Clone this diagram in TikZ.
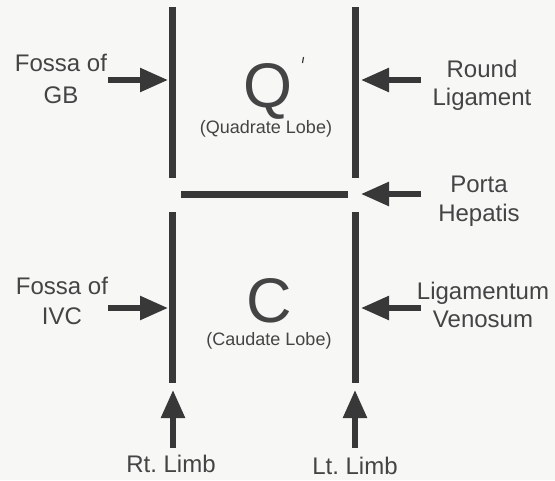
\documentclass[tikz,border=0pt]{standalone}
\usepackage{fontspec}
\setmainfont{Liberation Sans}
\usetikzlibrary{arrows.meta}
\definecolor{ink}{HTML}{383838}
\definecolor{txt}{HTML}{444444}
\definecolor{paper}{HTML}{F7F7F5}
\frenchspacing
\begin{document}
\begin{tikzpicture}[x=1pt,y=-1pt,
  wall/.style={line width=7pt, draw=ink},
  arr/.style={line width=5.5pt, draw=ink, -{Triangle[length=28pt,width=23pt]}},
  lab/.style={font=\fontsize{24}{29}\selectfont, text=txt, align=center, inner sep=0pt},
  big/.style={font=\fontsize{63}{63}\selectfont, text=txt, inner sep=0pt, anchor=base},
  sub/.style={font=\fontsize{18}{22}\selectfont, text=txt, inner sep=0pt, anchor=base}]
\fill[paper] (0,0) rectangle (555,480);

% walls (fissures)
\coordinate (LT) at (172,7);   \coordinate (LM1) at (172,178);
\coordinate (LM2) at (172,212); \coordinate (LB) at (172,383);
\coordinate (RT) at (355,7);   \coordinate (RM1) at (355,178);
\coordinate (RM2) at (355,212); \coordinate (RB) at (355,383);
\coordinate (HL) at (181,194); \coordinate (HR) at (348,194);
\draw[wall] (LT) -- (LM1);
\draw[wall] (LM2) -- (LB);
\draw[wall] (RT) -- (RM1);
\draw[wall] (RM2) -- (RB);
\draw[wall] (HL) -- (HR);

% lobes
\node[big] (Q) at (268,107) {Q};
\node[sub] (Qs) at (266,133) {(Quadrate Lobe)};
\node[big] (C) at (269,322) {C};
\node[sub] (Cs) at (269,345) {(Caudate Lobe)};
\coordinate (tk1) at (303.5,57); \coordinate (tk2) at (302.5,63);
\draw[ink, line width=1.2pt] (tk1) -- (tk2);

% labels
\node[lab, font=\fontsize{24}{32}\selectfont] (gb) at (61,79) {Fossa of\\GB};
\node[lab, font=\fontsize{24}{30}\selectfont] (ivc) at (62,301) {Fossa of\\IVC};
\node[lab, font=\fontsize{24}{28}\selectfont] (rl) at (482,85) {Round\\Ligament};
\node[lab] (ph) at (479,201) {Porta\\Hepatis};
\node[lab, font=\fontsize{24}{28}\selectfont] (lv) at (483,305) {Ligamentum\\Venosum};
\node[lab, anchor=base] (rt) at (171,472) {Rt. Limb};
\node[lab, anchor=base] (lt) at (355,474) {Lt. Limb};

% arrow ends
\coordinate (a1s) at (108,80);  \coordinate (a1e) at (168,80);
\coordinate (a2s) at (108,308); \coordinate (a2e) at (168,308);
\coordinate (a3s) at (421,80);  \coordinate (a3e) at (361,80);
\coordinate (a4s) at (421,194); \coordinate (a4e) at (361,194);
\coordinate (a5s) at (421,308); \coordinate (a5e) at (361,308);
\coordinate (a6s) at (173,448); \coordinate (a6e) at (173,390);
\coordinate (a7s) at (355,448); \coordinate (a7e) at (355,390);
\draw[arr] (a1s) -- (a1e);
\draw[arr] (a2s) -- (a2e);
\draw[arr] (a3s) -- (a3e);
\draw[arr] (a4s) -- (a4e);
\draw[arr] (a5s) -- (a5e);
\draw[arr] (a6s) -- (a6e);
\draw[arr] (a7s) -- (a7e);
\end{tikzpicture}
\end{document}
